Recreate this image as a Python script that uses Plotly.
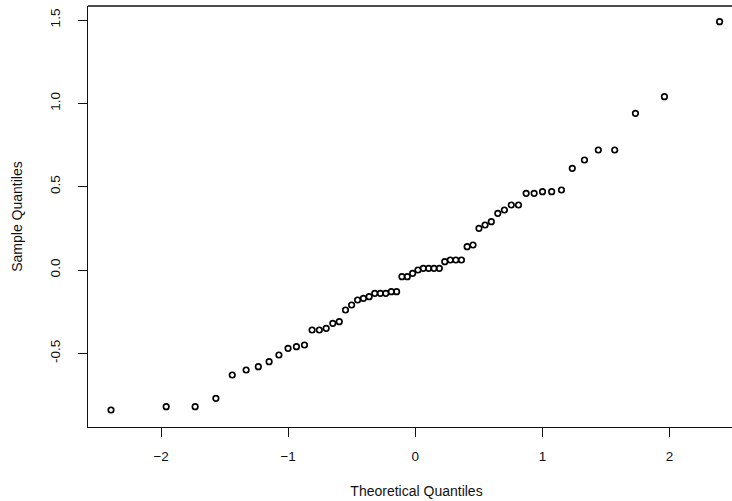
import plotly.graph_objects as go

# Theoretical normal quantiles (n = 60)
theoretical = [
    -2.394, -1.960, -1.732, -1.569, -1.440, -1.331, -1.235, -1.150, -1.073, -1.001,
    -0.935, -0.872, -0.812, -0.755, -0.701, -0.649, -0.598, -0.549, -0.501, -0.454,
    -0.408, -0.363, -0.319, -0.275, -0.232, -0.189, -0.147, -0.105, -0.063, -0.021,
    0.021, 0.063, 0.105, 0.147, 0.189, 0.232, 0.275, 0.319, 0.363, 0.408,
    0.454, 0.501, 0.549, 0.598, 0.649, 0.701, 0.755, 0.812, 0.872, 0.935,
    1.001, 1.073, 1.150, 1.235, 1.331, 1.440, 1.569, 1.732, 1.960, 2.394,
]

# Sample quantiles (sorted sample values)
sample = [
    -0.84, -0.82, -0.82, -0.77, -0.63, -0.60, -0.58, -0.55, -0.51, -0.47,
    -0.46, -0.45, -0.36, -0.36, -0.35, -0.32, -0.31, -0.24, -0.21, -0.18,
    -0.17, -0.16, -0.14, -0.14, -0.14, -0.13, -0.13, -0.04, -0.04, -0.02,
    0.00, 0.01, 0.01, 0.01, 0.01, 0.05, 0.06, 0.06, 0.06, 0.14,
    0.15, 0.25, 0.27, 0.29, 0.34, 0.36, 0.39, 0.39, 0.46, 0.46,
    0.47, 0.47, 0.48, 0.61, 0.66, 0.72, 0.72, 0.94, 1.04, 1.49,
]

x_ticks = [-2, -1, 0, 1, 2]
y_ticks = [-0.5, 0.0, 0.5, 1.0, 1.5]
y_tick_text = ["-0.5", "0.0", "0.5", "1.0", "1.5"]
x_tick_text = ["\u22122", "\u22121", "0", "1", "2"]

FONT = "Liberation Sans, Arial, sans-serif"

fig = go.Figure(
    go.Scatter(
        x=theoretical,
        y=sample,
        mode="markers",
        marker=dict(symbol="circle-open", size=5.5, color="black",
                    line=dict(width=1.7, color="#111")),
        hoverinfo="x+y",
        cliponaxis=False,
    )
)

# Plot area extends past the right edge of the page (as in the cropped reference)
fig.update_layout(
    width=745,
    height=501,
    margin=dict(l=88, r=0, t=6, b=74),
    paper_bgcolor="white",
    plot_bgcolor="white",
    showlegend=False,
    font=dict(family=FONT, color="#111", size=13),
    shapes=[
        dict(type="line", xref="paper", yref="paper", x0=0, x1=1, y0=1, y1=1,
             line=dict(color="#111", width=1.4)),
    ],
)

fig.update_xaxes(
    range=[-2.575, 2.594],
    tickvals=x_ticks,
    ticktext=x_tick_text,
    ticks="outside",
    ticklen=9,
    tickwidth=1.3,
    tickcolor="#111",
    showline=True,
    linecolor="#111",
    linewidth=1.4,
    mirror=False,
    showgrid=False,
    zeroline=False,
    ticklabelstandoff=8,
    tickfont=dict(size=13.5),
    title=dict(text="Theoretical Quantiles", font=dict(size=14), standoff=22),
    automargin=False,
)

fig.update_yaxes(
    range=[-0.942, 1.584],
    tickvals=y_ticks,
    ticktext=y_tick_text,
    tickangle=-90,
    ticks="outside",
    ticklen=9,
    tickwidth=1.3,
    tickcolor="#111",
    showline=True,
    linecolor="#111",
    linewidth=1.4,
    mirror=False,
    showgrid=False,
    zeroline=False,
    ticklabelstandoff=12,
    tickfont=dict(size=13.5),
    title=dict(text="Sample Quantiles", font=dict(size=14), standoff=22),
    automargin=False,
)

fig.write_html(
    "out.html",
    config={"displayModeBar": False},
    post_script="document.body.style.margin='0';document.body.style.overflow='hidden';",
)
